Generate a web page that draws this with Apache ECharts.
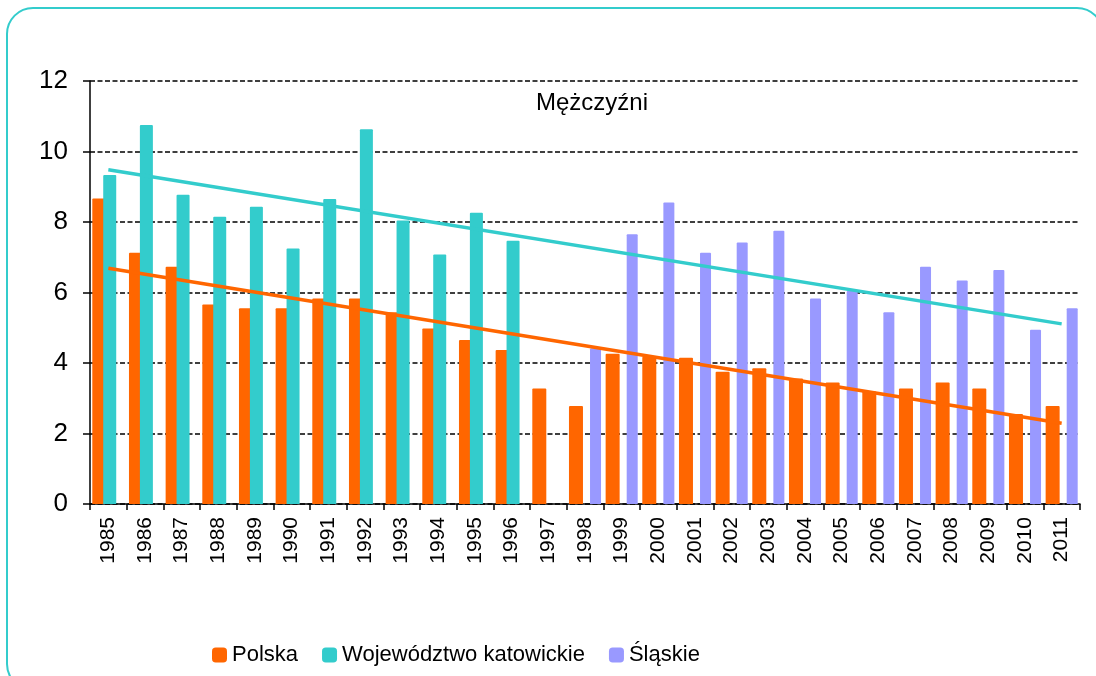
<!DOCTYPE html>
<html>
<head>
<meta charset="utf-8">
<script src="https://cdn.jsdelivr.net/npm/echarts@6/dist/echarts.min.js"></script>
<style>
html,body{margin:0;padding:0;background:#fff;}
#chart{width:1096px;height:676px;}
</style>
</head>
<body>
<div id="chart"></div>
<script>
const years = ['1985','1986','1987','1988','1989','1990','1991','1992','1993','1994','1995','1996','1997','1998','1999','2000','2001','2002','2003','2004','2005','2006','2007','2008','2009','2010','2011'];
const polska = [8.67,7.13,6.73,5.66,5.55,5.55,5.83,5.83,5.44,4.98,4.65,4.37,3.28,2.78,4.26,4.18,4.15,3.75,3.85,3.56,3.45,3.19,3.28,3.45,3.28,2.55,2.78];
const katowickie = [9.33,10.75,8.77,8.15,8.43,7.25,8.65,10.63,8.04,7.08,8.26,7.47,null,null,null,null,null,null,null,null,null,null,null,null,null,null,null];
const slaskie = [null,null,null,null,null,null,null,null,null,null,null,null,null,4.42,7.65,8.55,7.13,7.42,7.75,5.83,6.04,5.44,6.73,6.34,6.64,4.94,5.55];
const trendKatowickie = [['1985',9.48],['2011',5.11]];
const trendPolska = [['1985',6.69],['2011',2.29]];
const yTicks = [0,2,4,6,8,10,12];
const titleText = 'Mężczyźni';

const FONT = '"Liberation Sans", Arial, sans-serif';
const chart = echarts.init(document.getElementById('chart'), null, {renderer:'canvas'});
chart.setOption({
  backgroundColor:'#ffffff',
  animation:false,
  graphic:[
    {type:'rect', shape:{x:7,y:8,width:1096,height:682,r:26}, style:{fill:'none',stroke:'#33CCCC',lineWidth:2}, z:0},
    {type:'text', x:592, y:103, style:{text:titleText, font:'24px ' + FONT, fill:'#000', textAlign:'center', textVerticalAlign:'middle'}, z:10}
  ],
  legend:{
    data:['Polska','Województwo katowickie','Śląskie'],
    left:207, top:639,
    itemWidth:15, itemHeight:15, itemGap:24,
    icon:'roundRect',
    textStyle:{fontFamily:FONT, fontSize:22, color:'#000'}
  },
  grid:{left:90, right:16, top:81, bottom:172, containLabel:false},
  xAxis:{
    type:'category', data:years, boundaryGap:true,
    axisLine:{lineStyle:{color:'#000', width:1.5}},
    axisTick:{show:true, interval:0, length:6, lineStyle:{color:'#000', width:1.5}},
    axisLabel:{interval:0, rotate:90, margin:13, fontFamily:FONT, fontSize:21, color:'#000'},
    splitLine:{show:false}
  },
  yAxis:{
    type:'value', min:yTicks[0], max:yTicks[yTicks.length-1], interval:2,
    axisLine:{show:true, lineStyle:{color:'#000', width:1.5}},
    axisTick:{show:true, length:7, lineStyle:{color:'#000', width:1.5}},
    axisLabel:{margin:22, fontFamily:FONT, fontSize:26, color:'#000'},
    splitLine:{show:true, lineStyle:{color:'#000', width:1.6, type:[5,2.5]}}
  },
  series:[
    {name:'Polska', type:'bar', data:polska, barWidth:14, itemStyle:{color:'#FF6600', borderRadius:[1,1,0,0]}, z:2},
    {name:'Województwo katowickie', type:'bar', data:katowickie, barWidth:13, itemStyle:{color:'#33CCCC', borderRadius:[1,1,0,0]}, z:3},
    {name:'Śląskie', type:'bar', data:slaskie, barWidth:11, barGap:'-22%', itemStyle:{color:'#9999FF', borderRadius:[1,1,0,0]}, z:3},
    {name:'trendK', type:'line', data:trendKatowickie, symbol:'none', lineStyle:{color:'#33CCCC', width:3.5}, z:5},
    {name:'trendP', type:'line', data:trendPolska, symbol:'none', lineStyle:{color:'#FF6600', width:3.5}, z:5}
  ]
});
</script>
</body>
</html>
